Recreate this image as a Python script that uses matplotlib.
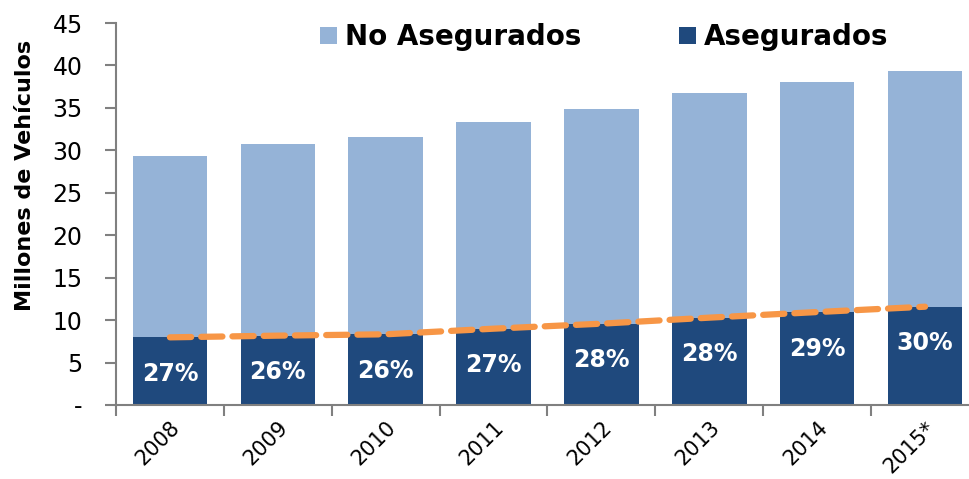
import matplotlib
matplotlib.use('Agg')
import matplotlib.pyplot as plt
import numpy as np

years = ['2008', '2009', '2010', '2011', '2012', '2013', '2014', '2015*']
total = [29.3, 30.8, 31.6, 33.3, 34.9, 36.7, 38.0, 39.3]
asegurados = [7.97, 8.17, 8.33, 8.99, 9.58, 10.29, 10.95, 11.58]
pct_labels = ['27%', '26%', '26%', '27%', '28%', '28%', '29%', '30%']

no_asegurados = [t - a for t, a in zip(total, asegurados)]

dark = '#1F497D'
light = '#95B3D7'
orange = '#F79646'
gray = '#808080'

fig = plt.figure(figsize=(9.7, 4.79), dpi=100)
ax = fig.add_axes([116 / 970, 74 / 479, 863 / 970, 382 / 479])

x = np.arange(len(years))
ax.bar(x, asegurados, width=0.69, color=dark, label='Asegurados', zorder=2)
ax.bar(x, no_asegurados, width=0.69, bottom=asegurados, color=light,
       label='No Asegurados', zorder=2)

# tendencia
ax.plot(x, asegurados, color=orange, lw=4.5, ls=(0, (3.4, 1.6)),
        dash_capstyle='round', zorder=3)

for xi, a, lab in zip(x, asegurados, pct_labels):
    ax.text(xi, a - 4.3, lab, color='white', fontsize=17, fontweight='bold',
            ha='center', va='center', zorder=4)

ax.set_xlim(-0.5, 7.5)
ax.set_ylim(0, 45)
ax.set_yticks(range(0, 46, 5))
ax.set_yticklabels(['-'] + [str(v) for v in range(5, 46, 5)], fontsize=17)
ax.set_ylabel('Millones de Vehículos', fontsize=16, fontweight='bold')
ax.yaxis.set_label_coords(-0.094, 0.6)

ax.set_xticks(x)
ax.set_xticklabels(years, rotation=45, fontsize=15, ha='right',
                   rotation_mode='anchor')
ax.tick_params(axis='x', length=0, pad=9)
ax.set_xticks(np.arange(-0.5, 8.0, 1.0), minor=True)
ax.tick_params(axis='x', which='minor', length=8, color=gray, width=1.5)
ax.tick_params(axis='y', length=8, color=gray, width=1.5, pad=16)

for s in ['top', 'right']:
    ax.spines[s].set_visible(False)
for s in ['left', 'bottom']:
    ax.spines[s].set_color(gray)
    ax.spines[s].set_linewidth(1.5)

h, l = ax.get_legend_handles_labels()
ax.legend(h[::-1], l[::-1], ncol=2, frameon=False, loc='upper center',
          bbox_to_anchor=(0.566, 1.065), prop={'size': 20, 'weight': 'bold'},
          handlelength=0.6, handleheight=0.6, handletextpad=0.3,
          columnspacing=3.5)

fig.savefig('out.png', dpi=100)
